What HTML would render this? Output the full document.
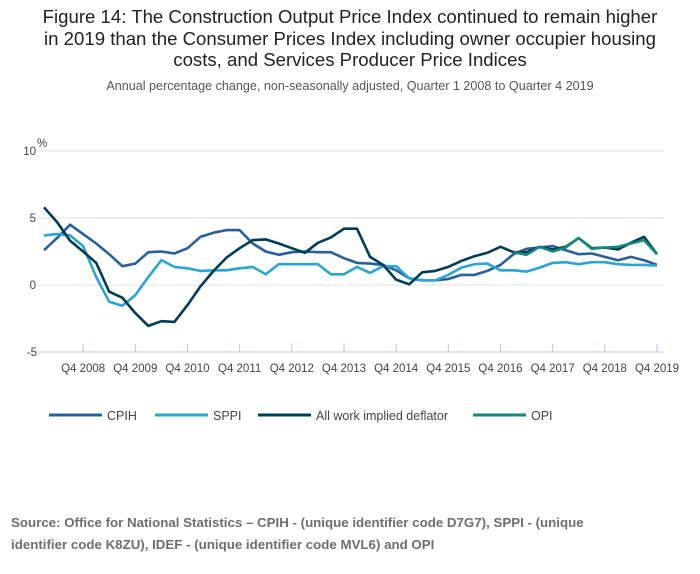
<!DOCTYPE html>
<html><head><meta charset="utf-8"><style>
body{margin:0;background:#fff;font-family:"Liberation Sans",sans-serif;}
#wrap{position:relative;width:700px;height:574px;overflow:hidden;}
.t{position:absolute;left:0;width:700px;text-align:center;color:#222;}
</style></head><body>
<div id="wrap">
<div class="t" style="top:6px;font-size:18.6px;line-height:21.5px;">Figure 14: The Construction Output Price Index continued to remain higher<br>in 2019 than the Consumer Prices Index including owner occupier housing<br>costs, and Services Producer Price Indices</div>
<div class="t" style="top:79px;font-size:12.6px;color:#555;">Annual percentage change, non-seasonally adjusted, Quarter 1 2008 to Quarter 4 2019</div>
<svg id="chart" width="700" height="574" style="position:absolute;left:0;top:0"></svg>
<div style="position:absolute;left:11px;top:512px;width:625px;font-size:13.3px;line-height:22px;font-weight:bold;color:#6e6e6e;">Source: Office for National Statistics – CPIH - (unique identifier code D7G7), SPPI - (unique identifier code K8ZU), IDEF - (unique identifier code MVL6) and OPI</div>
</div>
<script>
const xTickLabels=["Q4 2008","Q4 2009","Q4 2010","Q4 2011","Q4 2012","Q4 2013","Q4 2014","Q4 2015","Q4 2016","Q4 2017","Q4 2018","Q4 2019"];
const yTicks=[10,5,0,-5];
const cpih=[2.6,3.5,4.5,3.8,3.1,2.3,1.4,1.6,2.45,2.5,2.35,2.75,3.6,3.9,4.1,4.1,3.1,2.5,2.25,2.45,2.5,2.45,2.45,2.0,1.65,1.6,1.5,1.1,0.5,0.35,0.35,0.45,0.75,0.75,1.05,1.5,2.3,2.7,2.8,2.9,2.6,2.3,2.35,2.1,1.85,2.1,1.85,1.5];
const sppi=[3.7,3.8,3.7,2.9,0.6,-1.25,-1.55,-0.75,0.6,1.85,1.35,1.25,1.05,1.1,1.1,1.25,1.35,0.8,1.55,1.55,1.55,1.55,0.8,0.8,1.35,0.9,1.4,1.4,0.5,0.35,0.35,0.75,1.3,1.55,1.6,1.1,1.1,1.0,1.3,1.65,1.7,1.55,1.7,1.7,1.55,1.5,1.5,1.45];
const deflator=[5.8,4.7,3.3,2.5,1.65,-0.5,-0.95,-2.1,-3.05,-2.7,-2.75,-1.5,-0.1,1.05,2.05,2.75,3.35,3.4,3.1,2.75,2.4,3.15,3.55,4.2,4.2,2.1,1.5,0.4,0.05,0.95,1.05,1.35,1.8,2.15,2.4,2.85,2.45,2.45,2.85,2.65,2.85,3.5,2.75,2.8,2.65,3.15,3.6,2.3];
const opi=[null,null,null,null,null,null,null,null,null,null,null,null,null,null,null,null,null,null,null,null,null,null,null,null,null,null,null,null,null,null,null,null,null,null,null,null,2.45,2.25,2.85,2.5,2.8,3.5,2.7,2.8,2.85,3.1,3.35,2.3];
const seriesNames=["CPIH","SPPI","All work implied deflator","OPI"];
const colors=["#27609b","#2ba4d6","#003c57","#13897a"];
const NS="http://www.w3.org/2000/svg";
const svg=document.getElementById('chart');
const x=i=>44+i*(613/47);
const y=v=>285-v*13.4;
function mk(t,a){const e=document.createElementNS(NS,t);for(const k in a)e.setAttribute(k,a[k]);svg.appendChild(e);return e;}
yTicks.forEach(v=>{
 if(v!==-5){const g=mk('line',{x1:38,x2:664,y1:y(v),y2:y(v),stroke:'#e2e2e2','stroke-width':1});
 
 }
 const t=mk('text',{x:v<0?37:36,y:y(v)+4,'font-size':11.5,fill:'#444','text-anchor':'end','font-family':'Liberation Sans'});
 t.textContent=v;
 
 
});
const u=mk('text',{x:37,y:147,'font-size':11.5,fill:'#444','font-family':'Liberation Sans'});u.textContent='%';


const ax=mk('line',{x1:38,x2:664,y1:352,y2:352,stroke:'#bcc8dc','stroke-width':1});


xTickLabels.forEach((l,k)=>{const xi=x(3+4*k);
 const tk=mk('line',{x1:xi,x2:xi,y1:344,y2:352,stroke:'#bcc8dc'});
 
 
 const t=mk('text',{x:xi,y:372,'font-size':11.5,fill:'#444','text-anchor':'middle','font-family':'Liberation Sans'});t.textContent=l;
 
 
});
[cpih,sppi,deflator,opi].forEach((s,si)=>{
 let d='';s.forEach((v,i)=>{if(v===null)return;d+=(d?'L':'M')+x(i).toFixed(1)+','+y(v).toFixed(1);});
 const p=mk('path',{d:d,fill:'none',stroke:colors[si],'stroke-width':2.6,'stroke-linejoin':'round'});
 
 
});
const lx=[49,155,258,473];
seriesNames.forEach((n,i)=>{
 const l=mk('line',{x1:lx[i],x2:lx[i]+53,y1:415,y2:415,stroke:colors[i],'stroke-width':3});
 
 
 const t=mk('text',{x:lx[i]+58,y:420,'font-size':12.5,fill:'#444','font-family':'Liberation Sans'});t.textContent=n;
 
 
});
</script>
</body></html>
